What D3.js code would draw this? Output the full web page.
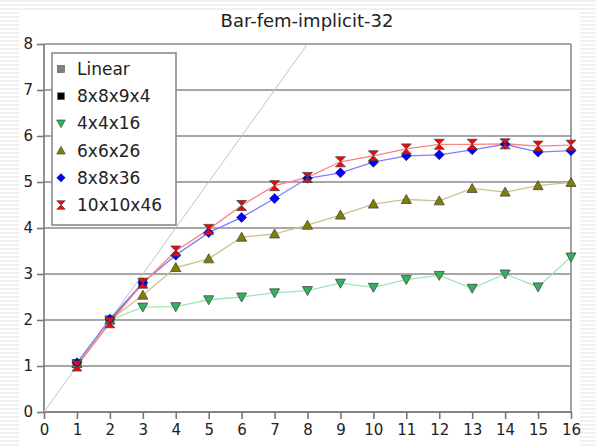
<!DOCTYPE html>
<html>
<head>
<meta charset="utf-8">
<script src="https://cdn.jsdelivr.net/npm/d3@7"></script>
<style>
  body { margin: 0; background: repeating-linear-gradient(#f1f1f1 0px, #f1f1f1 2px, #ffffff 2px, #ffffff 4px); }
  svg { display: block; font-family: "DejaVu Sans", sans-serif; }
</style>
</head>
<body>
<div id="chart"></div>
<script>
var svgWidth = 596;
var svgHeight = 448;

// chart data
var xValues = [1, 2, 3, 4, 5, 6, 7, 8, 9, 10, 11, 12, 13, 14, 15, 16];
var linearX = [0, 16];
var s8x8x9x4 = [1.05, 2.0, 2.8];
var s4x4x16 = [1.05, 2.0, 2.28, 2.29, 2.44, 2.5, 2.59, 2.64, 2.8, 2.71, 2.88, 2.97, 2.69, 3.0, 2.72, 3.37];
var s6x6x26 = [1.05, 2.0, 2.54, 3.14, 3.33, 3.8, 3.87, 4.06, 4.28, 4.52, 4.62, 4.59, 4.86, 4.78, 4.92, 4.99];
var s8x8x36 = [1.07, 2.02, 2.81, 3.41, 3.9, 4.23, 4.64, 5.08, 5.2, 5.43, 5.57, 5.59, 5.7, 5.82, 5.65, 5.68];
var s10x10x46 = [1.0, 1.94, 2.8, 3.5, 3.97, 4.49, 4.92, 5.1, 5.44, 5.57, 5.72, 5.82, 5.82, 5.83, 5.78, 5.8];
var xTicks = d3.range(0, 17);
var yTicks = d3.range(0, 9);

var margin = { top: 44, right: 25, bottom: 36, left: 44 };
var chartWidth = 571 - margin.left;
var chartHeight = 412 - margin.top;

var svg = d3.select("#chart")
  .append("svg")
  .attr("width", svgWidth)
  .attr("height", svgHeight);

// white page area behind the chart
svg.append("rect")
  .attr("x", 19).attr("y", 10)
  .attr("width", 561).attr("height", 438)
  .attr("fill", "#ffffff");

svg.append("text")
  .attr("x", 307).attr("y", 27)
  .attr("text-anchor", "middle")
  .attr("font-size", 18)
  .attr("fill", "#222")
  .text("Bar-fem-implicit-32");

var chartGroup = svg.append("g")
  .attr("transform", `translate(${margin.left}, ${margin.top})`);

var xScale = d3.scaleLinear().domain([0, 16]).range([0, chartWidth]);
var yScale = d3.scaleLinear().domain([0, 8]).range([chartHeight, 0]);

// horizontal grid
chartGroup.append("g")
  .selectAll("line")
  .data(yTicks)
  .enter()
  .append("line")
  .attr("x1", 0).attr("x2", chartWidth)
  .attr("y1", d => yScale(d)).attr("y2", d => yScale(d))
  .attr("stroke", "#8a8a8a")
  .attr("stroke-width", 1.6);

// right border
chartGroup.append("line")
  .attr("x1", chartWidth).attr("x2", chartWidth)
  .attr("y1", 0).attr("y2", chartHeight)
  .attr("stroke", "#8a8a8a").attr("stroke-width", 1.6);

var leftAxis = d3.axisLeft(yScale).tickValues(yTicks).tickSize(7).tickPadding(4);
var bottomAxis = d3.axisBottom(xScale).tickValues(xTicks).tickSize(7).tickPadding(5);

var yAxisG = chartGroup.append("g").call(leftAxis);
var xAxisG = chartGroup.append("g")
  .attr("transform", `translate(0, ${chartHeight})`)
  .call(bottomAxis);

[yAxisG, xAxisG].forEach(function(g) {
  g.select(".domain").attr("stroke", "#777").attr("stroke-width", 1.6);
  g.selectAll(".tick line").attr("stroke", "#777").attr("stroke-width", 1.6);
  g.selectAll(".tick text")
    .attr("font-size", 15)
    .attr("fill", "#222")
    .attr("font-family", "DejaVu Sans, sans-serif");
});
xAxisG.select(".domain").attr("d", `M0,0H${chartWidth}`);
yAxisG.select(".domain").attr("d", `M0,0V${chartHeight}`);

// clip to plot area
svg.append("clipPath").attr("id", "plotClip")
  .append("rect").attr("width", chartWidth).attr("height", chartHeight);

var plot = chartGroup.append("g").attr("clip-path", "url(#plotClip)");

// linear reference line
plot.append("line")
  .attr("x1", xScale(linearX[0])).attr("y1", yScale(linearX[0]))
  .attr("x2", xScale(linearX[1])).attr("y2", yScale(linearX[1]))
  .attr("stroke", "#c4c4c4").attr("stroke-width", 1);

var symbolTri = d3.symbolTriangle;

// marker drawing helpers
function drawMarker(sel, type, fill) {
  if (type === "square") {
    sel.append("rect").attr("x", -4).attr("y", -4).attr("width", 8).attr("height", 8)
      .attr("fill", fill).attr("stroke", "#555").attr("stroke-width", 0.8);
  } else if (type === "down") {
    sel.append("path").attr("d", "M-5,-4L5,-4L0,5Z")
      .attr("fill", fill).attr("stroke", "#444").attr("stroke-width", 0.8);
  } else if (type === "up") {
    sel.append("path").attr("d", "M-5,4L5,4L0,-5Z")
      .attr("fill", fill).attr("stroke", "#444").attr("stroke-width", 0.8);
  } else if (type === "diamond") {
    sel.append("path").attr("d", "M0,-5L5,0L0,5L-5,0Z")
      .attr("fill", fill).attr("stroke", "#223").attr("stroke-width", 0.6);
  } else if (type === "bowtie") {
    sel.append("path").attr("d", "M-5,-5L5,-5L0,0L5,5L-5,5L0,0Z")
      .attr("fill", fill).attr("stroke", "#444").attr("stroke-width", 0.8);
  }
}

var series = [
  { name: "8x8x9x4", values: s8x8x9x4, line: "#555555", fill: "#000000", marker: "square" },
  { name: "4x4x16", values: s4x4x16, line: "#9ee6b4", fill: "#2fb35c", marker: "down" },
  { name: "6x6x26", values: s6x6x26, line: "#c9c28f", fill: "#808000", marker: "up" },
  { name: "8x8x36", values: s8x8x36, line: "#8080ff", fill: "#0000ff", marker: "diamond" },
  { name: "10x10x46", values: s10x10x46, line: "#ff8080", fill: "#ff0000", marker: "bowtie" }
];

var lineGen = d3.line()
  .x((d, i) => xScale(xValues[i]))
  .y(d => yScale(d));

series.forEach(function(s) {
  plot.append("path")
    .datum(s.values)
    .attr("d", lineGen)
    .attr("fill", "none")
    .attr("stroke", s.line)
    .attr("stroke-width", 1.3);
});

series.forEach(function(s) {
  chartGroup.append("g")
    .selectAll("g")
    .data(s.values)
    .enter()
    .append("g")
    .attr("transform", (d, i) => `translate(${xScale(xValues[i])}, ${yScale(d)})`)
    .each(function() { drawMarker(d3.select(this), s.marker, s.fill); });
});

// legend
var legend = svg.append("g").attr("transform", "translate(52, 53)");
legend.append("rect")
  .attr("width", 124).attr("height", 172)
  .attr("fill", "#ffffff")
  .attr("stroke", "#8a8a8a").attr("stroke-width", 1.6);

var legendItems = [{ name: "Linear", fill: "#808080", marker: "square" }].concat(series);

var item = legend.selectAll(".item")
  .data(legendItems)
  .enter()
  .append("g")
  .attr("class", "item")
  .attr("transform", (d, i) => `translate(0, ${16 + i * 27.2})`);

item.each(function(d) {
  var m = d3.select(this).append("g").attr("transform", "translate(9, 0) scale(0.85)");
  drawMarker(m, d.marker, d.fill);
});

item.append("text")
  .attr("x", 25)
  .attr("y", 6)
  .attr("font-size", 17)
  .attr("fill", "#222")
  .text(d => d.name);
</script>
</body>
</html>
